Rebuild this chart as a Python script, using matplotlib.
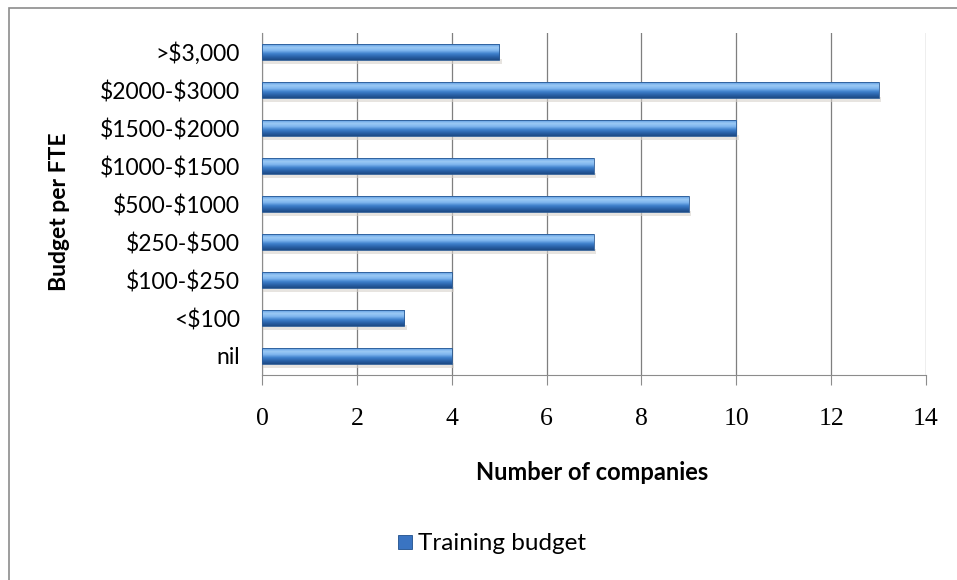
import matplotlib
matplotlib.use("Agg")
import matplotlib.pyplot as plt
import numpy as np
from matplotlib.patches import Rectangle
from matplotlib.colors import LinearSegmentedColormap

categories = ["nil", "<$100", "$100-$250", "$250-$500", "$500-$1000",
              "$1000-$1500", "$1500-$2000", "$2000-$3000", ">$3,000"]
companies = [4, 3, 4, 7, 9, 7, 10, 13, 5]
x_ticks = [0, 2, 4, 6, 8, 10, 12, 14]
series_name = "Training budget"

plt.rcParams["font.family"] = ["Lato", "DejaVu Sans"]

W, H = 957, 580
fig = plt.figure(figsize=(W / 100, H / 100), dpi=100)
ax = fig.add_axes([262 / W, 1 - 375 / H, (926 - 262) / W, (375 - 33) / H])

# outer chart frame (runs off the right and bottom edges)
fig.patches.append(Rectangle((9 / W, -0.05), 1.0, 1 - 8 / H + 0.05,
                             transform=fig.transFigure, fill=False,
                             edgecolor="#8c8c8c", linewidth=1.2))

ypos = np.arange(len(categories))
bar_h = 0.42

# vertical-gradient fill for bars: dark at the bottom, light near the top
grad = LinearSegmentedColormap.from_list(
    "barblue", ["#1d4a85", "#2a62a8", "#3f80cc", "#7fb6ee", "#9ccaf5", "#5a9ae0"])
gimg = np.linspace(0, 1, 64).reshape(-1, 1)

for y, v in zip(ypos, companies):
    # soft shadow under each bar
    ax.add_patch(Rectangle((0, y - bar_h / 2 - 0.1), v + 0.05, 0.12,
                           facecolor="#d8d2cc", edgecolor="none", alpha=0.6, zorder=2))
    rect = Rectangle((0, y - bar_h / 2), v, bar_h, facecolor="none",
                     edgecolor="#2a5a95", linewidth=0.6, zorder=4)
    ax.add_patch(rect)
    im = ax.imshow(gimg, cmap=grad, aspect="auto",
                   extent=(0, v, y - bar_h / 2, y + bar_h / 2),
                   origin="lower", zorder=3, interpolation="bilinear")
    im.set_clip_path(rect)

ax.set_xlim(0, 14)
ax.set_ylim(-0.5, len(categories) - 0.5)
ax.set_xticks(x_ticks)
ax.set_xticklabels([str(t) for t in x_ticks], fontsize=18.5,
                   family=["Liberation Serif", "DejaVu Serif"])
ax.set_yticks(ypos)
ax.set_yticklabels(categories, fontsize=16.5)
for lbl in ax.get_yticklabels():
    lbl.set_parse_math(False)
ax.grid(axis="x", color="#7f7f7f", linewidth=0.9, zorder=1)
ax.set_axisbelow(True)
for s in ["top", "right"]:
    ax.spines[s].set_visible(False)
for s in ["left", "bottom"]:
    ax.spines[s].set_color("#8c8c8c")
ax.tick_params(axis="x", length=7, color="#8c8c8c", pad=17)
ax.tick_params(axis="y", length=0, pad=16)

# axis titles
fig.text(592 / W, 1 - 472 / H, "Number of companies", fontsize=17,
         fontweight="bold", ha="center", va="center")
fig.text(60 / W, 1 - 212 / H, "Budget per FTE", fontsize=16.5,
         fontweight="bold", ha="center", va="center", rotation=90)

# legend entry
fig.text(418 / W, 1 - 543 / H, series_name, fontsize=17.5, va="center", ha="left")
fig.patches.append(Rectangle((398 / W, 1 - 549 / H), 14 / W, 14 / H,
                             transform=fig.transFigure, facecolor="#3a74c2",
                             edgecolor="#1f4f8c", linewidth=0.6))

fig.savefig("out.png", dpi=100)
